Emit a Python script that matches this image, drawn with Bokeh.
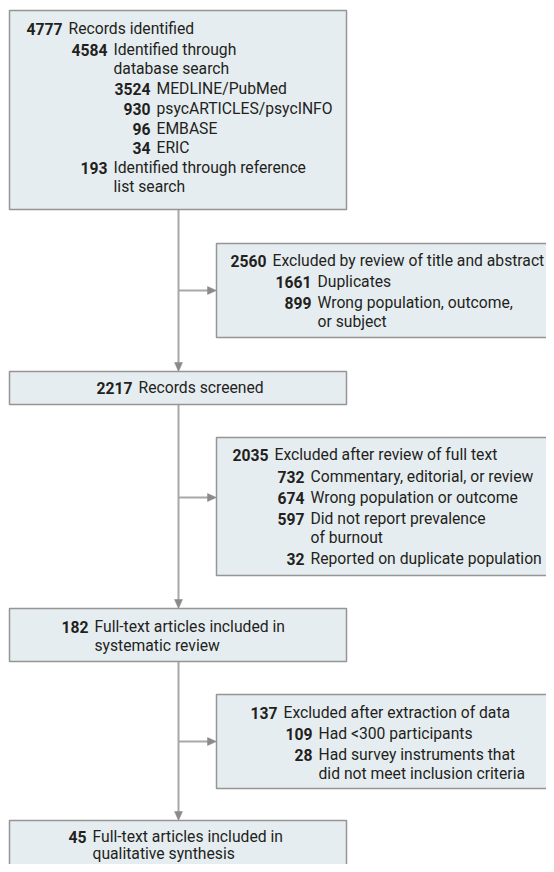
from bokeh.plotting import figure
from bokeh.models import Range1d
from bokeh.core.properties import value
from bokeh.embed import file_html
from bokeh.resources import INLINE

# ---- data (counts and labels of the flow diagram) ----
box1_counts = ["4777", "4584", "", "3524", "930", "96", "34", "193", ""]
box1_labels = ["Records identified", "Identified through", "database search",
               "MEDLINE/PubMed", "psycARTICLES/psycINFO", "EMBASE", "ERIC",
               "Identified through reference", "list search"]
box1_level = [0, 1, 1, 2, 2, 2, 2, 1, 1]

excl1_counts = ["2560", "1661", "899", ""]
excl1_labels = ["Excluded by review of title and abstract", "Duplicates",
                "Wrong population, outcome,", "or subject"]
excl1_level = [0, 1, 1, 1]

box2_counts = ["2217"]
box2_labels = ["Records screened"]
box2_level = [0]

excl2_counts = ["2035", "732", "674", "597", "", "32"]
excl2_labels = ["Excluded after review of full text", "Commentary, editorial, or review",
                "Wrong population or outcome", "Did not report prevalence",
                "of burnout", "Reported on duplicate population"]
excl2_level = [0, 1, 1, 1, 1, 1]

box3_counts = ["182", ""]
box3_labels = ["Full-text articles included in", "systematic review"]
box3_level = [0, 0]

excl3_counts = ["137", "109", "28", ""]
excl3_labels = ["Excluded after extraction of data", "Had <300 participants",
                "Had survey instruments that", "did not meet inclusion criteria"]
excl3_level = [0, 1, 1, 1]

box4_counts = ["45", ""]
box4_labels = ["Full-text articles included in", "qualitative synthesis"]
box4_level = [0, 0]

# ---- layout (pixel geometry) ----
FILL = "#e6edf1"
BORDER = "#959595"
LINE = "#a8a8a8"
HEAD = "#8a8a8a"
TEXT = "#231f20"
FONT = "Roboto"
FS = "15.7px"

main_l, main_r = 9, 346
side_l, side_r = 216, 553.5
cx = 178

boxes = [
    (main_l, main_r, 10, 209, box1_counts, box1_labels, box1_level, [62, 107, 150],
     [28, 49, 68, 88, 108, 128, 147, 167, 186]),
    (side_l, side_r, 243, 337, excl1_counts, excl1_labels, excl1_level, [266, 311],
     [260, 281, 302, 321]),
    (main_l, main_r, 371, 404, box2_counts, box2_labels, box2_level, [132],
     [387]),
    (side_l, side_r, 437, 575, excl2_counts, excl2_labels, excl2_level, [268, 304],
     [454, 476, 497, 518, 537, 558]),
    (main_l, main_r, 608, 661, box3_counts, box3_labels, box3_level, [88],
     [626, 645]),
    (side_l, side_r, 694, 788, excl3_counts, excl3_labels, excl3_level, [277, 312],
     [712, 733, 754, 773]),
    (main_l, main_r, 820, 880, box4_counts, box4_labels, box4_level, [86],
     [836, 853]),
]

p = figure(width=546, height=864, output_backend="svg", toolbar_location=None,
           x_range=Range1d(0, 546), y_range=Range1d(864, 0),
           min_border=0, x_axis_location=None, y_axis_location=None)
p.outline_line_color = None
p.grid.visible = False
p.background_fill_color = "white"
p.border_fill_color = "white"

# connectors
p.segment(x0=[cx, cx, cx], y0=[209, 404, 661], x1=[cx, cx, cx], y1=[365, 602, 814],
          line_color=LINE, line_width=2)
arrow_y = [290, 497, 741]
p.segment(x0=[cx] * 3, y0=arrow_y, x1=[side_l - 7] * 3, y1=arrow_y,
          line_color=LINE, line_width=2)
down_tips = [371, 608, 820]
p.patches(xs=[[cx - 4, cx + 4, cx] for _ in down_tips],
          ys=[[t - 9, t - 9, t] for t in down_tips],
          fill_color=HEAD, line_color=HEAD, line_width=0.5)
p.patches(xs=[[side_l - 9, side_l - 9, side_l] for _ in arrow_y],
          ys=[[y - 4, y + 4, y] for y in arrow_y],
          fill_color=HEAD, line_color=HEAD, line_width=0.5)

# boxes
p.quad(left=[b[0] for b in boxes], right=[b[1] for b in boxes],
       top=[b[2] for b in boxes], bottom=[b[3] for b in boxes],
       fill_color=FILL, line_color=BORDER, line_width=1.5)

# texts
nx, ny, nt, lx, ly, lt = [], [], [], [], [], []
for (l, r, t, b, counts, labels, levels, edges, ys) in boxes:
    for c, lab, lv, y in zip(counts, labels, levels, ys):
        e = edges[lv]
        if c:
            nx.append(e); ny.append(y); nt.append(c)
        lx.append(e + 6); ly.append(y); lt.append(lab)

p.text(x=nx, y=ny, text=nt, text_align="right", text_baseline="middle",
       text_font=value(FONT), text_font_style="bold", text_font_size=FS,
       text_color=TEXT)
p.text(x=lx, y=ly, text=lt, text_align="left", text_baseline="middle",
       text_font=value(FONT), text_font_size=FS, text_color=TEXT)

open("out.html", "w").write(file_html(p, INLINE))
